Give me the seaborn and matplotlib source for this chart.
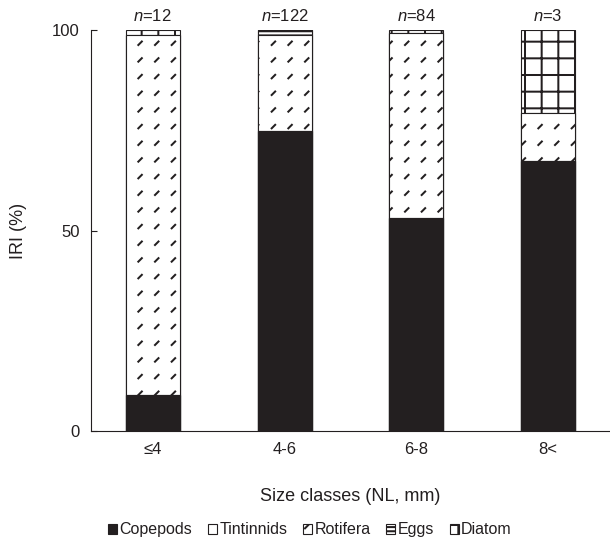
import numpy as np
import pandas as pd
import seaborn as sns
import matplotlib.pyplot as plt
from matplotlib import hatch as mhatch
from matplotlib.path import Path
from matplotlib.patches import Patch

# size classes and diet composition (IRI %)
size_classes = ["≤4", "4-6", "6-8", "8<"]
n_fish = [12, 122, 84, 3]

copepods = [9.0, 74.8, 53.1, 67.4]
tintinnids = [0.0, 0.0, 0.0, 0.0]
rotifera = [89.6, 23.9, 46.1, 11.9]
eggs = [0.0, 1.3, 0.0, 0.0]
diatom = [1.4, 0.0, 0.8, 20.7]

prey_names = ["Copepods", "Tintinnids", "Rotifera", "Eggs", "Diatom"]


# short diagonal dashes (stands in for the 'o' hatch), used for Rotifera
class ShortDashes(mhatch.HatchPatternBase):
    def __init__(self, hatch, density):
        self.num_rows = hatch.count("o") * density
        self.num_vertices = self.num_rows ** 2 * 2

    def set_vertices_and_codes(self, vertices, codes):
        n = self.num_rows
        step = 1.0 / n
        d = 0.035
        k = 0
        for i in range(n):
            for j in range(n):
                x0 = (i + 0.3) * step
                y0 = (j + 0.3) * step
                vertices[k] = (x0, y0)
                vertices[k + 1] = (x0 + d, y0 + d)
                codes[k] = Path.MOVETO
                codes[k + 1] = Path.LINETO
                k += 2


mhatch._hatch_types = [ShortDashes if t is mhatch.SmallCircles else t
                       for t in mhatch._hatch_types]

sns.set_style("ticks")
plt.rcParams["font.family"] = ["Liberation Sans", "DejaVu Sans"]
plt.rcParams["mathtext.fontset"] = "custom"
plt.rcParams["mathtext.rm"] = "Liberation Sans"
plt.rcParams["mathtext.it"] = "Liberation Sans:italic"
plt.rcParams["hatch.linewidth"] = 1.45
plt.rcParams["text.color"] = "#231f20"

ink = "#231f20"

fig = plt.figure(figsize=(6.1, 5.43), dpi=100)
ax = fig.add_axes([0.149, 0.206, 0.851, 0.739])

df = pd.DataFrame({"size": size_classes, "Copepods": copepods,
                   "Tintinnids": tintinnids, "Rotifera": rotifera,
                   "Eggs": eggs, "Diatom": diatom})
cum = df[prey_names].cumsum(axis=1)

styles = {
    "Copepods": dict(color=ink, hatch=None),
    "Tintinnids": dict(color="white", hatch=None),
    "Rotifera": dict(color="white", hatch="o"),
    "Eggs": dict(color="white", hatch="----"),
    "Diatom": dict(color="white", hatch="+"),
}

# stacked bars: draw cumulative totals from the top layer down
for name in prey_names[::-1]:
    st = styles[name]
    sns.barplot(x=df["size"], y=cum[name], color=st["color"], saturation=1,
                hatch=st["hatch"], edgecolor=ink, linewidth=0.8,
                width=0.41, ax=ax)

for i, n in enumerate(n_fish):
    ax.annotate(f"$n$={n}", xy=(i, 100), xytext=(0, 6.5),
                textcoords="offset points", ha="center", va="baseline",
                fontsize=12)

ax.set_ylim(0, 100)
ax.set_xlim(-0.47, 3.47)
ax.set_yticks([0, 50, 100])
ax.tick_params(axis="y", direction="in", length=4, width=0.8, color=ink,
               pad=8, labelsize=12, labelcolor=ink)
ax.tick_params(axis="x", length=0, pad=8, labelsize=12, labelcolor=ink)
for side in ["top", "right"]:
    ax.spines[side].set_visible(False)
for side in ["left", "bottom"]:
    ax.spines[side].set_color(ink)
    ax.spines[side].set_linewidth(0.8)

ax.set_xlabel("Size classes (NL, mm)", fontsize=13, labelpad=22, color=ink)
ax.set_ylabel("IRI (%)", fontsize=13, labelpad=18, color=ink)

handles = [Patch(facecolor=styles[nm]["color"], edgecolor=ink, linewidth=0.8,
                 hatch=styles[nm]["hatch"], label=nm) for nm in prey_names]
fig.legend(handles=handles, loc="center", bbox_to_anchor=(0.508, 0.024),
           ncol=5, frameon=False, fontsize=11.5, handlelength=0.55,
           handleheight=0.55, handletextpad=0.15, columnspacing=1.0,
           borderaxespad=0, borderpad=0)

fig.savefig("out.png", dpi=100)
